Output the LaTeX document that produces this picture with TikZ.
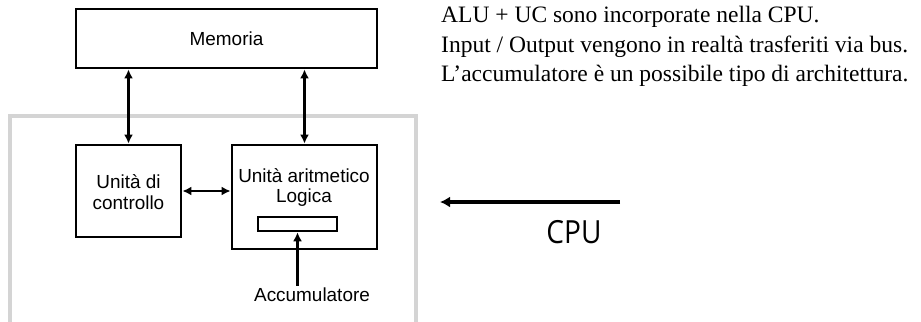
\documentclass[tikz,border=0pt]{standalone}
\usepackage{fontspec}
\setmainfont{Liberation Serif}
\setsansfont{Liberation Sans}
\newfontfamily\cpufont{Open Sans}
\usetikzlibrary{arrows.meta}
\tikzset{
  blk/.style={draw=black, line width=2.8bp, inner sep=0pt, font=\sffamily\fontsize{19}{22}\selectfont, align=center},
  lbl/.style={font=\sffamily\fontsize{19}{22}\selectfont, align=center, inner sep=0pt},
  bidir/.style={line width=2.8bp, {Latex[length=9bp,width=9bp]}-{Latex[length=9bp,width=9bp]}},
  uni/.style={line width=2.8bp, -{Latex[length=9bp,width=9bp]}},
  note/.style={anchor=west, inner sep=0pt, font=\rmfamily\fontsize{23.6}{26}\selectfont},
  frame/.style={draw=black!17, line width=3.5bp}
}
\begin{document}
\begin{tikzpicture}[x=1bp,y=-1bp]
\useasboundingbox (0,0) rectangle (921,321);
% CPU frame
\draw[frame] (10,323) -- (10,116) -- (416,116) -- (416,323);
% blocks
\node[blk, minimum width=301bp, minimum height=59bp] (mem) at (226.5,38.5) {Memoria};
\node[blk, minimum width=105bp, minimum height=92bp] (ctrl) at (128.5,191) {};
\node[lbl] (ctrltxt) at (128.5,192) {Unità di\\[-1pt]controllo};
\node[blk, minimum width=145bp, minimum height=104bp] (alu) at (304.5,197) {};
\node[lbl] (alutxt) at (304,187.5) {Unità aritmetico\\[-1pt]Logica};
\node[draw=black, line width=2.6bp, minimum width=79bp, minimum height=14bp, inner sep=0pt] (acc) at (297.5,224) {};
\node[lbl] (acctxt) at (312,295) {Accumulatore};
% connectors
\draw[bidir] (mem.south -| ctrl.north) -- (ctrl.north);
\draw[bidir] (mem.south -| alu.north) -- (alu.north);
\draw[bidir] (ctrl.east) -- (ctrl.east -| alu.west);
\draw[uni] (acctxt.north -| acc.south) ++(0,-2) -- (acc.south);
% notes
\node[note] (n1) at (441,17) {ALU + UC sono incorporate nella CPU.};
\node[note] (n2) at (441,47) {Input / Output vengono in realtà trasferiti via bus.};
\node[note] (n3) at (441,76) {L’accumulatore è un possibile tipo di architettura.};
% CPU arrow
\coordinate (cpuS) at (620,202);
\coordinate (cpuE) at (440,202);
\draw[line width=3.5bp, -{Latex[length=10bp,width=11bp]}] (cpuS) -- (cpuE);
\node[font=\cpufont\fontsize{32}{34}\selectfont, inner sep=0pt, xscale=0.88] (cpu) at (574,232) {CPU};
\end{tikzpicture}
\end{document}
